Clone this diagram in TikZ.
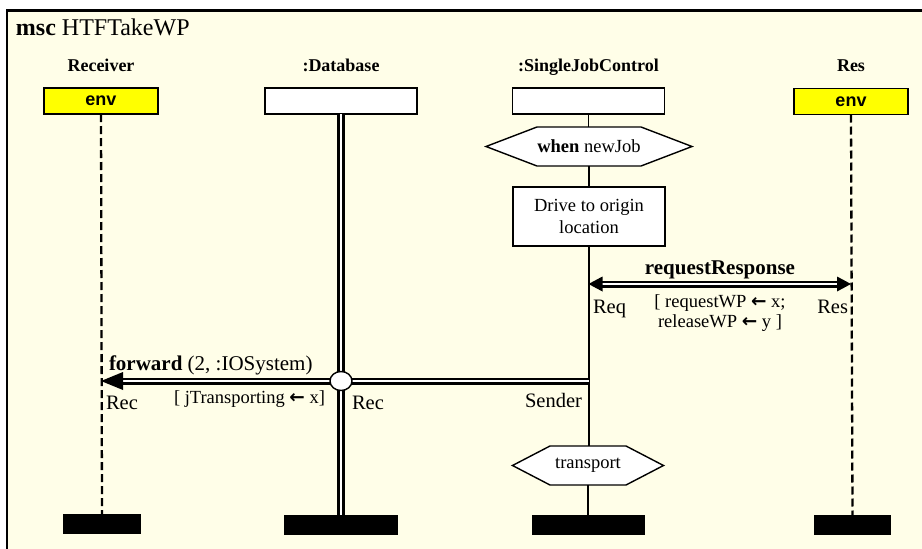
\documentclass[tikz,border=0pt]{standalone}
\usepackage{fontspec}
\setmainfont{Liberation Serif}
\newfontfamily\envfont{Liberation Sans}
\newfontfamily\arrfont{DejaVu Sans}
\usetikzlibrary{calc,shapes.geometric}

\pgfdeclarelayer{paper}
\pgfdeclarelayer{under}
\pgfsetlayers{paper,under,main}

\definecolor{mscpaper}{HTML}{FFFEE8}
\definecolor{envyellow}{HTML}{FFFF00}

% font size helper and the assignment arrow
\newcommand\fsz[2]{\fontsize{#1}{#2}\selectfont}
\newcommand\asg{{\arrfont\bfseries ←}}

\begin{document}
\begin{tikzpicture}[x=1pt,y=-1pt,
  every node/.style={inner sep=0pt,outer sep=0pt},
  envbox/.style={rectangle,draw,line width=1.4pt,fill=envyellow,
    minimum width=114pt,minimum height=26pt,
    font=\envfont\bfseries\fsz{18pt}{18pt}},
  instbox/.style={rectangle,draw,line width=1.4pt,fill=white,
    minimum width=152pt,minimum height=26pt},
  endbar/.style={rectangle,fill=black,minimum height=20pt},
  instname/.style={anchor=base,font=\bfseries\fsz{18pt}{18pt}},
  envlife/.style={line width=2.3pt,dash pattern=on 8pt off 4pt},
  dbllife/.style={line width=2.4pt,double=white,double distance=2.6pt},
  proclife/.style={line width=1.3pt},
  msgline/.style={line width=2.3pt,double=white,double distance=2.4pt},
  msghead/.style={fill=black},
  actbox/.style={rectangle,draw,line width=1.4pt,fill=white,
    minimum width=152pt,minimum height=59pt,align=center,
    font=\fsz{18.5pt}{22pt}},
  condtext/.style={rectangle,minimum height=39pt,font=\fsz{18.5pt}{18.5pt}},
  hexline/.style={draw,line width=1.4pt,fill=white,line join=miter},
  lbl/.style={font=\fsz{20.5pt}{20.5pt}},
  asgtext/.style={anchor=base,font=\fsz{18.5pt}{18.5pt}},
  msgtext/.style={font=\fsz{21pt}{21pt}}
]
\useasboundingbox (0,0) rectangle (922,549);

% paper and frame
\begin{pgfonlayer}{paper}
  \fill[white] (0,0) rectangle (922,549);
  \draw[fill=mscpaper,line width=2.6pt] (7,10.7) rectangle (945,575);
\end{pgfonlayer}

\node[anchor=base west,font=\fsz{24pt}{24pt}] (title) at (16,35)
  {\textbf{msc} HTFTakeWP};

% instance names
\node[instname] (rcvName) at (101,71) {Receiver};
\node[instname] (dbName)  at (341,71) {:Database};
\node[instname] (sjcName) at (588.5,71) {:SingleJobControl};
\node[instname] (resName) at (851,71) {Res};

% instance heads
\node[envbox]  (rcvH) at (101,101) {env};
\node[instbox] (dbH)  at (341,101) {};
\node[instbox] (sjcH) at (588.5,101) {};
\node[envbox]  (resH) at (851,101.5) {env};

% instance ends
\node[endbar,minimum width=78pt]  (rcvE) at (102,524) {};
\node[endbar,minimum width=114pt] (dbE)  at (341,524.5) {};
\node[endbar,minimum width=113pt] (sjcE) at (588.5,524.5) {};
\node[endbar,minimum width=77pt]  (resE) at (852.5,525) {};

% conditions and action of :SingleJobControl
\node[condtext,minimum width=104pt] (when) at (589,146.5)
  {\textbf{when} newJob};
\node[actbox] (drive) at (589,216.5) {Drive to origin\\location};
\node[condtext,minimum width=76pt] (trans) at (588,465.5) {transport};

\begin{pgfonlayer}{under}
  \draw[hexline] (when.north west) -- (when.north east)
    -- ($(when.east)+(51,0)$) -- (when.south east) -- (when.south west)
    -- ($(when.west)+(-51,0)$) -- cycle;
  \draw[hexline] (trans.north west) -- (trans.north east)
    -- ($(trans.east)+(37.5,0)$) -- (trans.south east) -- (trans.south west)
    -- ($(trans.west)+(-37.5,0)$) -- cycle;
\end{pgfonlayer}

% lifelines
\draw[envlife] (rcvH.south) -- (rcvE.north);
\draw[envlife] (resH.south) -- (resE.north);
\draw[dbllife] (dbH.south) -- (dbE.north);
\draw[proclife] (sjcH.south) -- (sjcH.south |- when.north);
\draw[proclife] (when.south) -- (drive.north);
\draw[proclife] (drive.south) -- (drive.south |- trans.north);
\draw[proclife] (trans.south) -- (trans.south |- sjcE.north);

% message requestResponse
\coordinate (reqP) at (588.5,284);
\coordinate (resP) at (851,284);
\draw[msgline,shorten <=13pt,shorten >=13pt] (reqP) -- (resP);
\fill[msghead] (reqP) -- ++(14,-7.5) -- ++(0,15) -- cycle;
\fill[msghead] (resP) -- ++(-14,-7.5) -- ++(0,15) -- cycle;
\node[anchor=base,msgtext,font=\bfseries\fsz{21pt}{21pt}] (rrLbl) at (720,274)
  {requestResponse};
\node[anchor=base west,lbl] (reqLbl) at (593,313) {Req};
\node[anchor=base east,lbl] (resLbl) at (848,313) {Res};
\node[asgtext] (rrAsg1) at (720,307) {[ requestWP \asg{} x;};
\node[asgtext] (rrAsg2) at (720,327) {releaseWP \asg{} y ]};

% message forward
\coordinate (sendP) at (588.5,381);
\coordinate (recvP) at (101,381);
\draw[msgline,shorten >=20pt] (sendP) -- (recvP);
\fill[msghead] (recvP) -- ++(22,-9) -- ++(0,18) -- cycle;
\node[ellipse,draw,line width=1.4pt,fill=white,
  minimum width=22pt,minimum height=19pt] (dbRec) at (341,381) {};
\node[anchor=base west,msgtext] (fwdLbl) at (109,370)
  {\textbf{forward} (2, :IOSystem)};
\node[anchor=base east,font=\fsz{18.5pt}{18.5pt}] (fwdAsg) at (325,403)
  {[ jTransporting \asg{} x]};
\node[anchor=base west,lbl] (recLbl) at (106,409) {Rec};
\node[anchor=base west,lbl] (dbRecLbl) at (352,409) {Rec};
\node[anchor=base east,lbl] (sendLbl) at (582,407) {Sender};

\end{tikzpicture}
\end{document}
